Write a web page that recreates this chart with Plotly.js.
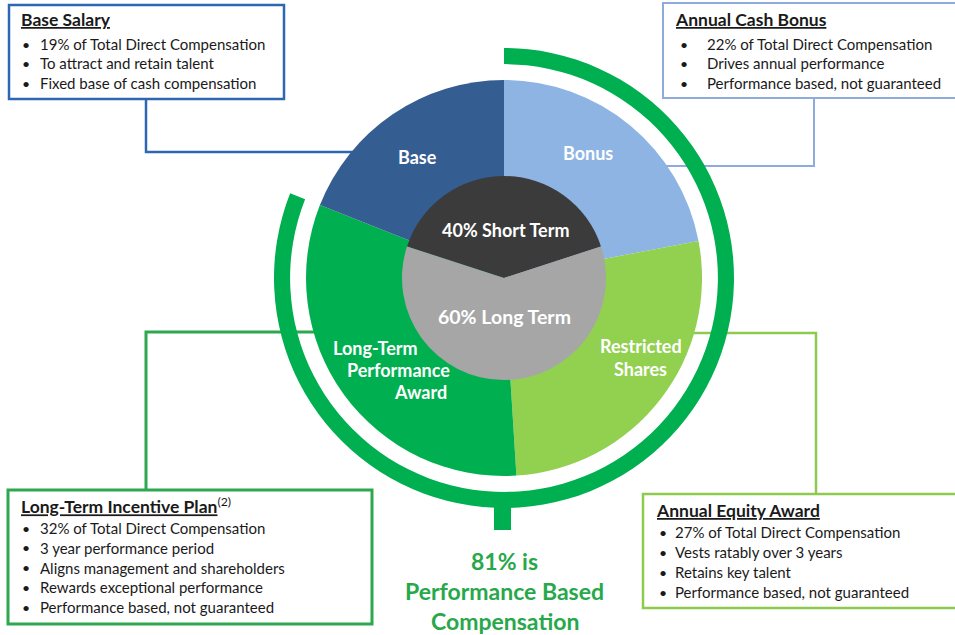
<!DOCTYPE html>
<html><head><meta charset="utf-8">
<script src="https://cdn.plot.ly/plotly-3.0.1.min.js"></script>
<style>html,body{margin:0;padding:0;background:#fff}</style>
</head><body><div id="chart" style="width:955px;height:635px"></div>
<script>
const W = 955, H = 635;

// ---- data ----
const outerLabels = ['Bonus', 'Restricted Shares', 'Long-Term Performance Award', 'Base'];
const outerValues = [22, 27, 32, 19];
const innerLabels = ['40% Short Term', '60% Long Term'];
const innerValues = [40, 60];
const perfLabels = ['Performance Based', 'Fixed'];
const perfValues = [81, 19];

const baseTitle = 'Base Salary';
const baseBullets = ['19% of Total Direct Compensation', 'To attract and retain talent', 'Fixed base of cash compensation'];
const bonusTitle = 'Annual Cash Bonus';
const bonusBullets = ['22% of Total Direct Compensation', 'Drives annual performance', 'Performance based, not guaranteed'];
const ltipTitle = 'Long-Term Incentive Plan';
const ltipNote = '(2)';
const ltipBullets = ['32% of Total Direct Compensation', '3 year performance period', 'Aligns management and shareholders', 'Rewards exceptional performance', 'Performance based, not guaranteed'];
const equityTitle = 'Annual Equity Award';
const equityBullets = ['27% of Total Direct Compensation', 'Vests ratably over 3 years', 'Retains key talent', 'Performance based, not guaranteed'];
const footerLines = ['81% is', 'Performance Based', 'Compensation'];

// ---- styles ----
const outerColors = ['#8EB4E3', '#92D050', '#00B050', '#345E92'];
const innerColors = ['#3B3B3B', '#A6A6A6'];
const ringColors = ['#00B050', 'rgba(0,0,0,0)'];
const FONT = 'Lato, "Open Sans", sans-serif';
const TXT = '#1a1a1a';

const px = x => x / W, py = y => 1 - y / H;
function dom(cx, cy, r) { return {x: [px(cx - r), px(cx + r)], y: [py(cy + r), py(cy - r)]}; }
const CX = 504, CY = 278;

const common = {type: 'pie', sort: false, direction: 'clockwise', textinfo: 'none', hoverinfo: 'none', showlegend: false};

const traces = [
  Object.assign({}, common, {labels: perfLabels, values: perfValues, hole: 0.93, rotation: 0,
    domain: dom(CX, CY, 230), marker: {colors: ringColors, line: {width: 0}}}),
  Object.assign({}, common, {labels: outerLabels, values: outerValues, rotation: 0,
    domain: dom(CX, CY, 198), marker: {colors: outerColors, line: {width: 0}}}),
  Object.assign({}, common, {labels: innerLabels, values: innerValues, rotation: -72,
    domain: dom(CX, CY, 102), marker: {colors: innerColors, line: {width: 0}}})
];

const shapes = [];
function rect(x0, y0, x1, y1, color, w) {
  shapes.push({type: 'rect', xref: 'paper', yref: 'paper', x0: px(x0), x1: px(x1), y0: py(y1), y1: py(y0),
    line: {color: color, width: w}, fillcolor: 'white', layer: 'above'});
}
function path(pts, color, w) {
  let d = pts.map((p, i) => (i ? 'L' : 'M') + px(p[0]) + ',' + py(p[1])).join(' ');
  shapes.push({type: 'path', xref: 'paper', yref: 'paper', path: d, line: {color: color, width: w}, layer: 'below'});
}
// leader lines
path([[146, 99], [146, 152], [370, 152]], '#2E67B1', 2.5);
path([[814, 98], [814, 166], [650, 166]], '#8FAADC', 2);
path([[146, 490], [146, 332], [340, 332]], '#2EA84F', 3);
path([[816, 494], [816, 333], [660, 333]], '#8DCB4F', 2.5);
// stem under ring
shapes.push({type: 'rect', xref: 'paper', yref: 'paper', x0: px(494), x1: px(511), y0: py(530), y1: py(500),
  line: {width: 0}, fillcolor: '#00B050', layer: 'below'});
// boxes
rect(9, 5, 284, 99, '#2E67B1', 2.5);
rect(663, 3, 960, 98, '#8FAADC', 2);
rect(8, 490, 372, 624, '#2EA84F', 3);
rect(643, 494, 960, 608, '#8DCB4F', 2.5);

const ann = [];
function txt(x, y, text, opts) {
  ann.push(Object.assign({xref: 'paper', yref: 'paper', x: px(x), y: py(y), text: text, showarrow: false,
    xanchor: 'left', yanchor: 'middle', font: {family: FONT, size: 15, color: TXT}}, opts || {}));
}
function box(x, y, title, bullets, bx, tx, off, dy) {
  txt(x, y, title, {font: {family: FONT, size: 17.5, color: TXT}});
  bullets.forEach((b, i) => {
    txt(bx, y + off + i * dy, '•', {font: {family: FONT, size: 14, color: TXT}});
    txt(tx, y + off + i * dy, b, {});
  });
}
box(19, 20, '<b><u>' + baseTitle + '</u></b>', baseBullets, 20, 38, 24, 19.5);
box(673, 20, '<b><u>' + bonusTitle + '</u></b>', bonusBullets, 678, 705, 24, 19.5);
box(19, 505, '<b><u>' + ltipTitle + '</u></b><sup>' + ltipNote + '</sup>', ltipBullets, 20, 38, 23, 19.8);
box(654, 510, '<b><u>' + equityTitle + '</u></b>', equityBullets, 657, 673, 22, 20);

// slice labels
function lab(x, y, text, size) {
  ann.push({xref: 'paper', yref: 'paper', x: px(x), y: py(y), text: '<b>' + text + '</b>', showarrow: false,
    xanchor: 'center', yanchor: 'middle', font: {family: FONT, size: size || 18, color: 'white'}});
}
lab(417, 157, outerLabels[3]);
lab(588, 153, outerLabels[0]);
const rs = outerLabels[1].split(' ');
lab(641, 346, rs[0]);
lab(640, 369, rs[1]);
const lt = outerLabels[2].split(' ');
lab(375, 348, lt[0]);
lab(398, 370, lt[1]);
lab(420, 392, lt[2]);
lab(506, 230, innerLabels[0], 18);
lab(505, 316, innerLabels[1], 19.5);
// footer
footerLines.forEach((t, i) => {
  ann.push({xref: 'paper', yref: 'paper', x: px(505), y: py(561 + i * 30), text: '<b>' + t + '</b>', showarrow: false,
    xanchor: 'center', yanchor: 'middle', font: {family: FONT, size: 23, color: '#27A84A'}});
});

Plotly.newPlot('chart', traces, {
  width: W, height: H, margin: {l: 0, r: 0, t: 0, b: 0},
  paper_bgcolor: 'white', plot_bgcolor: 'white', showlegend: false,
  shapes: shapes, annotations: ann
}, {displayModeBar: false, staticPlot: true});
</script></body></html>
